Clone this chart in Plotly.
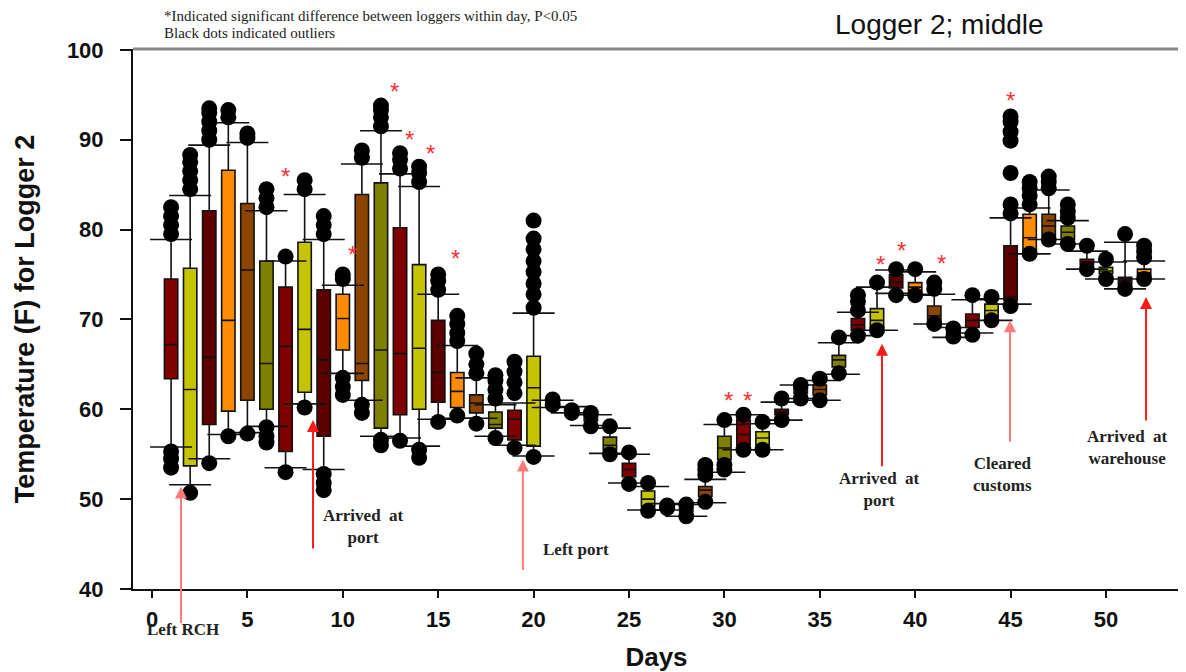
import plotly.graph_objects as go

# ---------------- data ----------------
days = list(range(1, 53))
q1 = [63.4, 53.7, 58.3, 59.8, 61.0, 60.0, 55.3, 61.9, 57.0, 66.6,
      63.2, 57.9, 59.4, 60.0, 60.8, 60.2, 59.6, 57.9, 56.6, 55.9,
      60.4, 59.7, 58.7, 55.5, 52.5, 49.2, 48.9, 48.6, 50.3, 54.4,
      56.0, 56.0, 59.4, 61.8, 61.6, 64.7, 68.8, 69.1, 73.5, 73.0,
      69.9, 68.4, 69.1, 70.3, 72.1, 77.4, 79.3, 78.9, 76.1, 75.1,
      73.9, 74.9]
median = [67.2, 62.2, 65.8, 69.9, 75.5, 65.1, 67.0, 68.9, 65.5, 70.1,
          65.1, 66.6, 66.2, 66.8, 64.1, 62.0, 60.7, 58.3, 58.9, 62.4,
          60.6, 59.8, 58.9, 56.0, 53.3, 50.0, 49.1, 48.8, 51.0, 55.7,
          57.2, 56.8, 59.7, 62.0, 62.2, 65.5, 69.4, 69.9, 74.2, 73.6,
          70.4, 68.6, 69.9, 71.0, 72.5, 79.1, 80.4, 79.7, 76.4, 75.4,
          74.3, 75.2]
q3 = [74.5, 75.7, 82.1, 86.6, 82.9, 76.5, 73.6, 78.6, 73.3, 72.8,
      83.9, 85.2, 80.2, 76.1, 69.9, 64.1, 61.6, 59.7, 59.9, 65.9,
      60.8, 59.9, 59.2, 56.9, 54.0, 50.9, 49.3, 49.0, 51.4, 57.0,
      58.9, 57.5, 60.0, 62.3, 62.7, 66.0, 70.1, 71.2, 75.0, 74.1,
      71.5, 68.8, 70.6, 71.7, 78.2, 81.7, 81.7, 80.4, 76.7, 75.8,
      74.7, 75.6]
whisker_lo = [55.8, 51.6, 54.5, 57.2, 57.4, 58.1, 53.5, 60.6, 53.3, 64.0,
              61.0, 57.0, 56.8, 55.9, 58.9, 59.0, 59.0, 57.0, 56.0, 54.8,
              60.2, 59.6, 58.2, 55.1, 51.8, 48.8, 48.8, 48.1, 49.6, 53.0,
              55.5, 55.5, 58.8, 61.2, 61.0, 63.9, 68.2, 68.8, 72.9, 72.7,
              69.5, 68.0, 68.5, 69.9, 71.7, 77.3, 78.9, 78.4, 75.6, 74.5,
              73.4, 74.5]
whisker_hi = [78.9, 83.8, 89.4, 91.9, 89.7, 82.1, 76.5, 83.9, 78.9, 73.8,
              87.3, 91.0, 86.2, 84.8, 72.8, 67.1, 63.5, 60.5, 60.7, 70.7,
              61.0, 60.3, 59.4, 57.9, 55.0, 51.4, 49.5, 49.4, 52.2, 58.3,
              59.4, 58.4, 60.8, 62.7, 63.2, 67.4, 70.8, 73.6, 75.5, 75.3,
              72.8, 69.1, 72.2, 72.3, 81.3, 82.4, 84.4, 81.0, 77.6, 76.4,
              78.6, 76.5]
outliers = [
    [79.5, 80.5, 81.5, 82.5, 55.3, 54.5, 53.5],
    [84.5, 85.5, 86.5, 87.5, 88.3, 50.7],
    [90.0, 91.0, 92.0, 93.0, 93.5, 54.0],
    [92.5, 93.3, 57.0],
    [90.2, 90.7, 57.3],
    [82.5, 83.5, 84.5, 58.0, 57.0, 56.3],
    [77.0, 53.0],
    [84.5, 85.5, 60.2],
    [79.5, 80.5, 81.5, 52.8, 51.8, 51.0],
    [74.5, 75.0, 63.5, 62.5, 61.6],
    [88.0, 88.8, 60.5, 59.6],
    [91.5, 92.5, 93.3, 93.8, 56.6, 56.0],
    [86.8, 87.8, 88.5, 56.5],
    [85.3, 86.3, 87.0, 55.5, 54.6],
    [73.3, 74.3, 75.0, 58.6],
    [67.6, 68.5, 69.5, 70.4, 59.3],
    [64.0, 65.0, 66.2, 58.4],
    [61.2, 62.2, 63.2, 63.8, 56.8],
    [61.8, 63.0, 64.2, 65.3, 55.7],
    [71.3, 72.8, 74.0, 75.3, 76.5, 77.8, 79.0, 81.0, 54.7],
    [61.1, 60.5],
    [59.6, 59.9],
    [59.6, 58.1],
    [58.1, 55.0],
    [55.2, 51.7],
    [51.8, 48.7],
    [49.3, 49.0],
    [49.4, 48.1],
    [52.7, 53.3, 53.8, 49.7],
    [58.8, 53.8, 53.3],
    [59.4, 55.5],
    [58.6, 55.5],
    [61.2, 58.8],
    [62.7, 61.2],
    [63.4, 61.0],
    [68.0, 64.0],
    [71.0, 72.0, 72.7, 68.2],
    [74.1, 68.8],
    [75.6, 72.7],
    [75.6, 72.7],
    [73.4, 74.1, 69.5],
    [69.0, 68.1],
    [72.7, 68.3],
    [72.5, 69.9],
    [81.8, 82.8, 86.3, 89.9, 90.9, 92.0, 92.6, 71.5],
    [82.8, 83.8, 84.6, 85.3, 77.3],
    [84.6, 85.3, 85.9, 78.9],
    [81.3, 82.0, 82.8, 78.4],
    [78.2, 75.6],
    [76.7, 74.5],
    [79.5, 73.4],
    [76.9, 77.6, 78.2, 74.5],
]
box_colors = ["#800000", "#c4c400", "#5c0000", "#ff8c00", "#8b4500", "#808000"]

star_days = [7.0, 10.5, 12.7, 13.5, 14.6, 15.9, 30.2, 31.2, 38.2, 39.3, 41.4, 45.0]
star_temps = [86.7, 78.0, 96.1, 90.8, 89.2, 77.6, 61.8, 61.8, 76.9, 78.4, 77.0, 95.2]

event_labels = ["Left RCH", "Arrived  at<br>port", "Left port", "Arrived  at<br>port",
                "Cleared<br>customs", "Arrived  at<br>warehouse"]
event_days = [1.52, 8.44, 19.44, 38.26, 44.97, 52.1]
event_temps = [51.4, 58.8, 54.4, 67.3, 69.9, 72.5]
event_label_days = [1.62, 11.1, 22.2, 38.15, 44.6, 51.15]
event_label_temps = [40.0, 47.0, 44.4, 51.1, 52.7, 55.8]
event_label_shift_px = [-40, 0, 0, 0, 0, 0]
event_colors = ["#ff7a7a", "#ff1a1a", "#ff7a7a", "#ff1a1a", "#ff7a7a", "#ff1a1a"]
arrow_len_px = [138, 130, 112, 124, 123, 125]

# ---------------- figure ----------------
fig = go.Figure()

for ci, col in enumerate(box_colors):
    idx = [i for i in range(len(days)) if i % len(box_colors) == ci]
    fig.add_trace(go.Box(
        x=[days[i] for i in idx],
        q1=[q1[i] for i in idx],
        median=[median[i] for i in idx],
        q3=[q3[i] for i in idx],
        lowerfence=[whisker_lo[i] for i in idx],
        upperfence=[whisker_hi[i] for i in idx],
        fillcolor=col,
        line=dict(color="#111111", width=1.6),
        width=0.7,
        whiskerwidth=0,
        boxpoints=False,
        hoverinfo="skip",
        showlegend=False,
    ))

# whisker caps
cap_half = 1.1
cx, cy = [], []
for d, lo, hi in zip(days, whisker_lo, whisker_hi):
    for v in (lo, hi):
        cx += [d - cap_half, d + cap_half, None]
        cy += [v, v, None]
fig.add_trace(go.Scatter(x=cx, y=cy, mode="lines",
                         line=dict(color="#111111", width=1.6),
                         hoverinfo="skip", showlegend=False))

# outliers
ox, oy = [], []
for d, outs in zip(days, outliers):
    for v in outs:
        ox.append(d)
        oy.append(v)
fig.add_trace(go.Scatter(x=ox, y=oy, mode="markers",
                         marker=dict(color="black", size=16),
                         hoverinfo="skip", showlegend=False))

annotations = []
# significance stars
for d, t in zip(star_days, star_temps):
    annotations.append(dict(x=d, y=t, xref="x", yref="y", text="*", showarrow=False,
                            font=dict(family="Liberation Sans, Arial", size=24, color="#ff3030"),
                            yshift=-7))
# event arrows
for d, t, col, L in zip(event_days, event_temps, event_colors, arrow_len_px):
    annotations.append(dict(x=d, y=t, xref="x", yref="y", text="", showarrow=True,
                            ax=0, ay=L, arrowhead=2, arrowsize=1.2, arrowwidth=2,
                            arrowcolor=col))
for lab, d, t, s in zip(event_labels, event_label_days, event_label_temps, event_label_shift_px):
    annotations.append(dict(x=d, y=t, xref="x", yref="y", text="<b>" + lab + "</b>",
                            showarrow=False, yshift=s,
                            font=dict(family="Liberation Serif, Times New Roman", size=17,
                                      color="#222222")))
# header texts
annotations.append(dict(x=0.0277, y=1.062, xref="paper", yref="paper", xanchor="left",
                        yanchor="middle", showarrow=False,
                        text="*Indicated significant difference between loggers within day, P<0.05",
                        font=dict(family="Liberation Serif, Times New Roman", size=15, color="#222")))
annotations.append(dict(x=0.0277, y=1.030, xref="paper", yref="paper", xanchor="left",
                        yanchor="middle", showarrow=False,
                        text="Black dots indicated outliers",
                        font=dict(family="Liberation Serif, Times New Roman", size=15, color="#222")))
annotations.append(dict(x=0.770, y=1.046, xref="paper", yref="paper", xanchor="center",
                        yanchor="middle", showarrow=False, text="Logger 2; middle",
                        font=dict(family="Liberation Sans, Arial", size=28, color="#111")))

fig.update_layout(
    width=1178, height=664,
    margin=dict(l=125, r=6, t=41, b=83, autoexpand=False),
    paper_bgcolor="white", plot_bgcolor="white",
    boxmode="overlay",
    annotations=annotations,
    shapes=[dict(type="line", xref="paper", yref="paper", x0=0, x1=1, y0=1, y1=1,
                 line=dict(color="#888888", width=3))],
    xaxis=dict(range=[-0.996, 53.88], tickvals=list(range(0, 51, 5)), ticks="outside",
               ticklen=7, tickwidth=2, tickcolor="#111", showline=True, linewidth=2,
               linecolor="#111", showgrid=False, zeroline=False, automargin=False,
               ticklabelstandoff=3,
               tickfont=dict(family="Liberation Sans, Arial", size=22, color="#111", weight="bold"),
               title=dict(text="Days", standoff=20,
                          font=dict(family="Liberation Sans, Arial", size=26, color="#111",
                                    weight="bold"))),
    yaxis=dict(range=[40, 100.1], tickvals=list(range(40, 101, 10)), ticks="outside",
               ticklen=11, tickwidth=2, tickcolor="#111", showline=True, linewidth=2,
               linecolor="#111", showgrid=False, zeroline=False, ticklabelstandoff=12,
               automargin=False,
               tickfont=dict(family="Liberation Sans, Arial", size=22, color="#111", weight="bold"),
               title=dict(text="Temperature (F) for Logger 2", standoff=24,
                          font=dict(family="Liberation Sans, Arial", size=27, color="#111",
                                    weight="bold"))),
)

fig.write_html("out.html")
